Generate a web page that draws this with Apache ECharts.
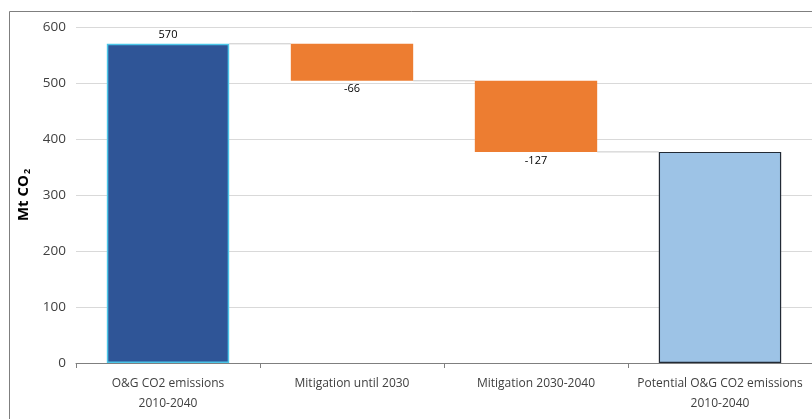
<!DOCTYPE html>
<html><head><meta charset="utf-8">
<script src="https://cdn.jsdelivr.net/npm/echarts@6/dist/echarts.min.js"></script>
<style>html,body{margin:0;padding:0;background:#fff;}#c{width:812px;height:419px;}</style>
</head><body><div id="c"></div>
<script>
const categories = ['O&G CO2 emissions\n2010-2040', 'Mitigation until 2030', 'Mitigation 2030-2040', 'Potential O&G CO2 emissions\n2010-2040'];
const startTotal = 570;
const changes = [-66, -127];
const endTotal = 377;
const yTicks = [0, 100, 200, 300, 400, 500, 600];

// Build waterfall structure from data
const levels = [startTotal];
changes.forEach(c => levels.push(levels[levels.length - 1] + c));
const baseVals = [0];
const barVals = [startTotal];
changes.forEach((c, i) => { baseVals.push(Math.min(levels[i], levels[i + 1])); barVals.push(Math.abs(c)); });
baseVals.push(0); barVals.push(endTotal);
const labelTexts = [String(startTotal)].concat(changes.map(String)).concat(['']);
const connectorLevels = levels.slice();

const barStyles = [
  { color: '#2F5597', borderColor: '#4CC6E8', borderWidth: 1.5 },
  { color: '#ED7D31', borderColor: '#ED7D31', borderWidth: 0 },
  { color: '#ED7D31', borderColor: '#ED7D31', borderWidth: 0 },
  { color: '#9DC3E6', borderColor: '#222a35', borderWidth: 1.2 }
];
const barFrac = 0.665;

const chart = echarts.init(document.getElementById('c'));
chart.setOption({
  animation: false,
  textStyle: { fontFamily: '"Open Sans", "Liberation Sans", sans-serif' },
  graphic: [{
    type: 'rect', left: 7, top: 9, shape: { width: 830, height: 440 },
    style: { fill: 'none', stroke: '#7f7f7f', lineWidth: 1 }, z: -1, silent: true
  }],
  grid: { left: 76, right: -4, top: 27, bottom: 56 },
  xAxis: {
    type: 'category', data: categories,
    axisLine: { lineStyle: { color: '#7f7f7f', width: 1 } },
    axisTick: { show: true, length: 5, lineStyle: { color: '#7f7f7f' } },
    axisLabel: { color: '#404040', fontSize: 12, lineHeight: 20, margin: 11, interval: 0 }
  },
  yAxis: {
    type: 'value', min: yTicks[0], max: yTicks[yTicks.length - 1], interval: 100,
    name: '{m|Mt CO}{s|2}', nameLocation: 'middle', nameGap: 44,
    nameTextStyle: {
      rich: {
        m: { fontWeight: 'bold', fontSize: 15, color: '#000', fontFamily: '"Open Sans", sans-serif' },
        s: { fontWeight: 'bold', fontSize: 9, color: '#000', fontFamily: '"Open Sans", sans-serif', padding: [8, 0, 0, 1] }
      }
    },
    axisLine: { show: false }, axisTick: { show: false },
    axisLabel: { color: '#404040', fontSize: 13.5, margin: 10 },
    splitLine: { lineStyle: { color: '#d9d9d9', width: 1 } }
  },
  series: [
    {
      type: 'bar', stack: 'w', data: baseVals, barWidth: (barFrac * 100) + '%',
      itemStyle: { color: 'transparent' }, silent: true
    },
    {
      type: 'bar', stack: 'w', barWidth: (barFrac * 100) + '%',
      data: barVals.map((v, i) => ({
        value: v,
        itemStyle: barStyles[i],
        label: {
          show: labelTexts[i] !== '',
          position: i === 0 ? 'top' : 'bottom',
          distance: 3,
          formatter: () => labelTexts[i],
          color: '#000', fontSize: 11
        }
      }))
    },
    {
      type: 'custom',
      data: connectorLevels.map((lv, i) => [i, lv]),
      renderItem: function (params, api) {
        const i = api.value(0), lv = api.value(1);
        const p1 = api.coord([i, lv]);
        const p2 = api.coord([i + 1, lv]);
        const half = api.size([1, 0])[0] * barFrac / 2;
        return {
          type: 'line',
          shape: { x1: p1[0] + half, y1: p1[1], x2: p2[0] - half, y2: p2[1] },
          style: { stroke: '#c8c8c8', lineWidth: 1 }
        };
      },
      z: 1, silent: true
    }
  ]
});
</script></body></html>
